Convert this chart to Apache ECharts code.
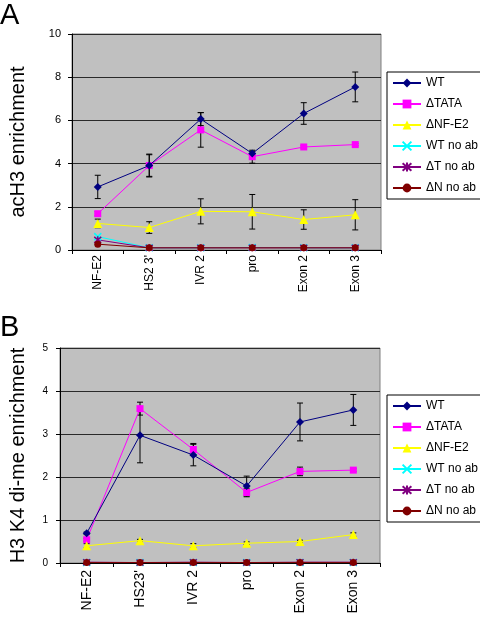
<!DOCTYPE html>
<html>
<head>
<meta charset="utf-8">
<script src="https://cdn.jsdelivr.net/npm/echarts@6/dist/echarts.min.js"></script>
<style>
html,body{margin:0;padding:0;background:#fff;}
#c{width:480px;height:618px;}
</style>
</head>
<body>
<div id="c"></div>
<script>
// ---------- data ----------
const seriesNames = ['WT', '\u0394TATA', '\u0394NF-E2', 'WT no ab', '\u0394T no ab', '\u0394N no ab'];

// Panel A: acH3 enrichment
const catsA = ['NF-E2', "HS2 3'", 'IVR 2', 'pro', 'Exon 2', 'Exon 3'];
const wtA      = [2.92, 3.91, 6.06, 4.47, 6.32, 7.55];
const tataA    = [1.68, 3.91, 5.56, 4.32, 4.77, 4.88];
const nfe2A    = [1.23, 1.04, 1.79, 1.77, 1.41, 1.63];
const wtNoAbA  = [0.62, 0.10, 0.10, 0.12, 0.10, 0.10];
const tNoAbA   = [0.47, 0.10, 0.10, 0.10, 0.10, 0.10];
const nNoAbA   = [0.27, 0.10, 0.10, 0.10, 0.10, 0.10];
const errWtA   = [0.54, 0.53, 0.30, 0.10, 0.50, 0.69];
const errTataA = [0.10, 0.50, 0.80, 0.30, 0.05, 0.05];
const errNfe2A = [0.20, 0.27, 0.58, 0.80, 0.45, 0.70];
const yTicksA  = {min: 0, max: 10, interval: 2};

// Panel B: H3 K4 di-me enrichment
const catsB = ['NF-E2', "HS23'", 'IVR 2', 'pro', 'Exon 2', 'Exon 3'];
const wtB      = [0.69, 2.97, 2.51, 1.79, 3.28, 3.56];
const tataB    = [0.54, 3.59, 2.64, 1.64, 2.13, 2.16];
const nfe2B    = [0.40, 0.52, 0.40, 0.46, 0.50, 0.66];
const wtNoAbB  = [0.01, 0.01, 0.01, 0.01, 0.01, 0.01];
const tNoAbB   = [0.02, 0.01, 0.02, 0.01, 0.02, 0.02];
const nNoAbB   = [0.01, 0.01, 0.01, 0.01, 0.01, 0.01];
const errWtB   = [0.03, 0.64, 0.25, 0.23, 0.44, 0.36];
const errTataB = [0.03, 0.15, 0.14, 0.10, 0.10, 0.03];
const errNfe2B = [0.05, 0.03, 0.05, 0.03, 0.03, 0.04];
const yTicksB  = {min: 0, max: 5, interval: 1};

// ---------- styling ----------
const FONT = 'Liberation Sans, Arial, sans-serif';
const colors = ['#000080', '#ff00ff', '#ffff00', '#00ffff', '#800080', '#800000'];
const symbols = ['diamond', 'rect', 'triangle',
  'path://M0,0L10,10M10,0L0,10',
  'path://M0,0L10,10M10,0L0,10M5,-1L5,11',
  'circle'];
const symSizes = [8, 7, 9, 7, 7, 7];

function lineSeries(idx, data, axisIdx) {
  const isPath = symbols[idx].startsWith('path://');
  return {
    type: 'line',
    name: seriesNames[idx],
    xAxisIndex: axisIdx, yAxisIndex: axisIdx,
    data: data,
    symbol: symbols[idx],
    symbolSize: symSizes[idx],
    showAllSymbol: true,
    lineStyle: {color: colors[idx], width: 1},
    itemStyle: isPath ? {color: colors[idx], borderColor: colors[idx], borderWidth: 1.5}
                      : {color: colors[idx]},
    emphasis: {disabled: true},
    z: 3 + (idx === 0 ? 1 : 0),
    animation: false
  };
}

function errSeries(vals, errs, axisIdx) {
  return {
    type: 'custom',
    xAxisIndex: axisIdx, yAxisIndex: axisIdx,
    data: vals.map((v, i) => [i, v - errs[i], v + errs[i]]),
    renderItem: function (params, api) {
      const i = api.value(0);
      const lo = api.coord([i, api.value(1)]);
      const hi = api.coord([i, api.value(2)]);
      const w = 3;
      const st = {stroke: '#000', lineWidth: 1};
      return {type: 'group', children: [
        {type: 'line', shape: {x1: lo[0], y1: lo[1], x2: hi[0], y2: hi[1]}, style: st},
        {type: 'line', shape: {x1: lo[0] - w, y1: lo[1], x2: lo[0] + w, y2: lo[1]}, style: st},
        {type: 'line', shape: {x1: hi[0] - w, y1: hi[1], x2: hi[0] + w, y2: hi[1]}, style: st}
      ]};
    },
    z: 2,
    silent: true,
    animation: false
  };
}

function xAxisCfg(cats, gridIdx, fs, margin) {
  return {
    type: 'category', gridIndex: gridIdx, data: cats, boundaryGap: true,
    axisLine: {show: true, lineStyle: {color: '#000', width: 1}},
    axisTick: {show: true, inside: false, length: 4, alignWithLabel: false, lineStyle: {color: '#000'}},
    axisLabel: {rotate: 90, fontSize: fs, color: '#000', fontFamily: FONT, margin: margin, interval: 0},
    splitLine: {show: false}
  };
}

function yAxisCfg(t, gridIdx, name, fs, nameGap, margin) {
  return {
    type: 'value', gridIndex: gridIdx, min: t.min, max: t.max, interval: t.interval,
    name: name, nameLocation: 'middle', nameRotate: 90, nameGap: nameGap,
    nameTextStyle: {fontSize: 20, color: '#000', fontFamily: FONT},
    axisLine: {show: true, lineStyle: {color: '#000', width: 1}},
    axisTick: {show: true, inside: false, length: 4, lineStyle: {color: '#000'}},
    axisLabel: {fontSize: fs, color: '#000', fontFamily: FONT, margin: margin},
    splitLine: {show: true, lineStyle: {color: '#2a2a2a', width: 1}}
  };
}

function legendCfg(top) {
  return {
    orient: 'vertical', left: 387, top: top,
    data: seriesNames,
    itemWidth: 28, itemHeight: 11, itemGap: 7,
    padding: [4, 5, 4, 5],
    backgroundColor: '#fff', borderColor: '#000', borderWidth: 1, borderRadius: 0,
    textStyle: {fontSize: 12, color: '#000', fontFamily: FONT, lineHeight: 14},
    selectedMode: false
  };
}

const chart = echarts.init(document.getElementById('c'), null, {renderer: 'canvas'});
chart.setOption({
  animation: false,
  backgroundColor: '#fff',
  textStyle: {fontFamily: FONT},
  grid: [
    {left: 65, top: 34, right: 99, height: 216, show: true, backgroundColor: '#c0c0c0', borderColor: '#808080', borderWidth: 1},
    {left: 54, top: 348, right: 100, height: 215, show: true, backgroundColor: '#c0c0c0', borderColor: '#808080', borderWidth: 1}
  ],
  xAxis: [xAxisCfg(catsA, 0, 12, 5), xAxisCfg(catsB, 1, 14, 7)],
  yAxis: [yAxisCfg(yTicksA, 0, 'acH3 enrichment', 11, 44, 11),
          yAxisCfg(yTicksB, 1, 'H3 K4 di-me enrichment', 10, 32, 12)],
  legend: [legendCfg(72), legendCfg(395)],
  graphic: [
    {type: 'text', left: 0, top: 1, style: {text: 'A', fontSize: 29, fontFamily: FONT, fill: '#000'}},
    {type: 'text', left: 0, top: 313, style: {text: 'B', fontSize: 29, fontFamily: FONT, fill: '#000'}}
  ],
  series: [
    errSeries(wtA, errWtA, 0), errSeries(tataA, errTataA, 0), errSeries(nfe2A, errNfe2A, 0),
    errSeries(wtB, errWtB, 1), errSeries(tataB, errTataB, 1), errSeries(nfe2B, errNfe2B, 1),
    lineSeries(0, wtA, 0), lineSeries(1, tataA, 0), lineSeries(2, nfe2A, 0),
    lineSeries(3, wtNoAbA, 0), lineSeries(4, tNoAbA, 0), lineSeries(5, nNoAbA, 0),
    lineSeries(0, wtB, 1), lineSeries(1, tataB, 1), lineSeries(2, nfe2B, 1),
    lineSeries(3, wtNoAbB, 1), lineSeries(4, tNoAbB, 1), lineSeries(5, nNoAbB, 1)
  ]
});
</script>
</body>
</html>
